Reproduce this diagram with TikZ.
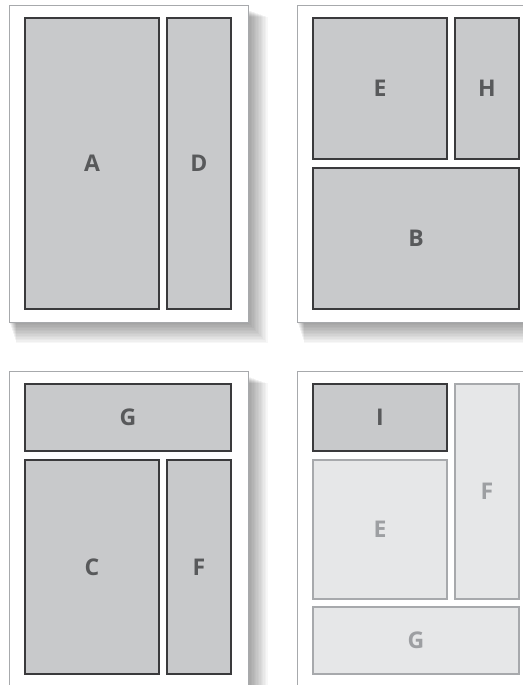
\documentclass[tikz,border=0pt]{standalone}
\usepackage{fontspec}
\setsansfont{Open Sans}
\usetikzlibrary{positioning}

\definecolor{boxfill}{HTML}{C8C9CB}
\definecolor{boxline}{HTML}{3A3A3C}
\definecolor{boxtext}{HTML}{58595B}
\definecolor{fadefill}{HTML}{E6E7E8}
\definecolor{fadeline}{HTML}{A7A9AC}
\definecolor{fadetext}{HTML}{9D9FA2}
\definecolor{pageline}{HTML}{A7A9AC}

\begin{document}
\begin{tikzpicture}[x=1pt, y=-1pt,
  page/.style={draw=pageline, fill=white, line width=0.9pt, shape=rectangle, anchor=north west,
    inner sep=0pt, outer sep=0pt, minimum width=239pt, minimum height=317pt},
  box/.style={draw=boxline, fill=boxfill, line width=1.2pt, shape=rectangle, anchor=north west,
    inner sep=0pt, outer sep=0pt, text=boxtext, font=\fontsize{23}{23}\selectfont\sffamily\bfseries},
  faded/.style={box, draw=fadeline, fill=fadefill, text=fadetext}]

      \useasboundingbox (0,0) rectangle (522,685);

      % soft shadows behind the four pages
      \foreach \px/\py in {9/5, 297/5, 9/371, 297/371}
        \foreach \s in {1,...,14}
          \fill[black, opacity=0.03] (\px+\s*0.5, \py+5+\s*0.5) rectangle (\px+239+\s*1.4, \py+317+\s*1.5);

      \node[page] (pageAD) at (9,5) {};
      \node[page] (pageEHB) at (297,5) {};
      \node[page] (pageGCF) at (9,371) {};
      \node[page] (pageIEFG) at (297,371) {};

      % first layout
      \node[box, minimum width=134pt, minimum height=291pt] (A) at ([shift={(16,13)}]pageAD.north west) {A};
      \node[box, minimum width=64pt, minimum height=291pt, right=8pt of A.north east, anchor=north west] (D) {D};

      % second layout
      \node[box, minimum width=134pt, minimum height=141pt] (E) at ([shift={(16,13)}]pageEHB.north west) {E};
      \node[box, minimum width=64pt, minimum height=141pt, right=8pt of E.north east, anchor=north west] (H) {H};
      \node[box, minimum width=206pt, minimum height=141pt, below=9pt of E.south west, anchor=north west] (B) {B};

      % third layout
      \node[box, minimum width=206pt, minimum height=67pt] (G) at ([shift={(16,13)}]pageGCF.north west) {G};
      \node[box, minimum width=134pt, minimum height=214pt, below=9pt of G.south west, anchor=north west] (C) {C};
      \node[box, minimum width=64pt, minimum height=214pt, right=8pt of C.north east, anchor=north west] (F) {F};

      % fourth layout, only I is active
      \node[box, minimum width=134pt, minimum height=67pt] (I) at ([shift={(16,13)}]pageIEFG.north west) {I};
      \node[faded, minimum width=134pt, minimum height=139pt, below=9pt of I.south west, anchor=north west] (E2) {E};
      \node[faded, minimum width=64pt, minimum height=215pt, right=8pt of I.north east, anchor=north west] (F2) {F};
      \node[faded, minimum width=206pt, minimum height=67pt, below=8pt of E2.south west, anchor=north west] (G2) {G};
\end{tikzpicture}
\end{document}
